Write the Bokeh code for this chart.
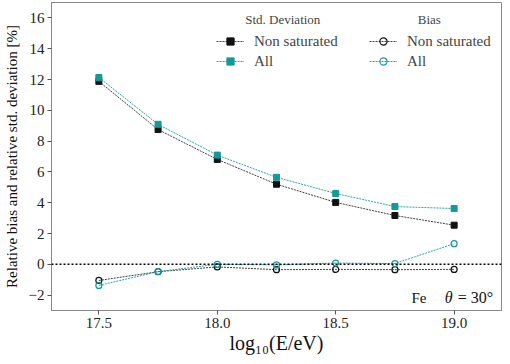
import numpy as np
from bokeh.plotting import figure
from bokeh.models import (Legend, LegendItem, Span, Label, FixedTicker, ColumnDataSource,
                          Range1d, NumeralTickFormatter)
from bokeh.embed import file_html
from bokeh.resources import INLINE

energy = [17.5, 17.75, 18.0, 18.25, 18.5, 18.75, 19.0]
std_nonsat = [11.88, 8.75, 6.81, 5.2, 4.02, 3.17, 2.54]
std_all = [12.13, 9.09, 7.09, 5.65, 4.6, 3.75, 3.62]
bias_nonsat = [-1.05, -0.48, -0.17, -0.35, -0.33, -0.35, -0.33]
bias_all = [-1.37, -0.48, 0.0, -0.04, 0.08, 0.05, 1.34]
y_ticks = [-2, 0, 2, 4, 6, 8, 10, 12, 14, 16]
x_ticks = [17.5, 18.0, 18.5, 19.0]

BLACK = "#111111"
TEAL = "#14999a"
FONT = "Liberation Serif"

p = figure(width=502, height=356, output_backend="svg", toolbar_location=None,
           x_range=Range1d(17.3, 19.2), y_range=Range1d(-3, 17),
           min_border_left=10, min_border_right=1, min_border_top=2, min_border_bottom=10)
p.grid.visible = False
p.outline_line_color = "#888888"
p.outline_line_width = 1
p.background_fill_color = "white"
p.border_fill_color = "white"

for ax in (p.xaxis[0], p.yaxis[0]):
    ax.axis_line_color = "#888888"
    ax.major_tick_line_color = "#555555"
    ax.minor_tick_line_color = None
    ax.major_tick_in = 0
    ax.major_tick_out = 4
    ax.major_label_text_font = FONT
    ax.major_label_text_font_size = "15px"
    ax.major_label_text_color = "#222222"
    ax.axis_label_text_font = FONT
    ax.axis_label_text_font_style = "normal"
    ax.axis_label_text_color = "#111111"
    ax.major_label_standoff = 3

p.yaxis.ticker = FixedTicker(ticks=y_ticks)
p.xaxis.ticker = FixedTicker(ticks=x_ticks)
p.xaxis.formatter = NumeralTickFormatter(format="0.0")
p.yaxis.axis_label = "Relative bias and relative std. deviation [%]"
p.yaxis.axis_label_text_font_size = "15px"
p.yaxis.axis_label_standoff = 6
p.xaxis.axis_label = "log₁₀(E/eV)"
p.xaxis.axis_label_text_font_size = "20px"
p.xaxis.axis_label_standoff = 1

p.add_layout(Span(location=0, dimension="width", line_color="black", line_width=1.6, line_dash="2 2"))

src = ColumnDataSource(dict(x=energy, sn=std_nonsat, sa=std_all, bn=bias_nonsat, ba=bias_all))

l_sn = p.line("x", "sn", source=src, line_color=BLACK, line_width=1, line_dash="2 1", line_alpha=0.8)
m_sn = p.scatter("x", "sn", source=src, marker="square", size=6, color=BLACK)
l_sa = p.line("x", "sa", source=src, line_color=TEAL, line_width=1, line_dash="2 1", line_alpha=0.9)
m_sa = p.scatter("x", "sa", source=src, marker="square", size=6, color=TEAL)
l_bn = p.line("x", "bn", source=src, line_color=BLACK, line_width=1, line_dash="2 1", line_alpha=0.8)
m_bn = p.scatter("x", "bn", source=src, marker="circle", size=6, line_color=BLACK, fill_alpha=0, line_width=1.2)
l_ba = p.line("x", "ba", source=src, line_color=TEAL, line_width=1, line_dash="2 1", line_alpha=0.9)
m_ba = p.scatter("x", "ba", source=src, marker="circle", size=6, line_color=TEAL, fill_alpha=0, line_width=1.2)


def make_legend(title, items, loc):
    return Legend(items=items, title=title, location=loc, orientation="vertical",
                  background_fill_alpha=0, border_line_alpha=0,
                  label_text_font=FONT, label_text_font_size="15px",
                  title_text_font=FONT, title_text_font_size="13px", title_text_font_style="normal",
                  glyph_width=28, glyph_height=18, label_height=18, spacing=2,
                  padding=4, margin=0, title_standoff=4, label_standoff=10)


leg1 = make_legend("         Std. Deviation", [
    LegendItem(label="Non saturated", renderers=[l_sn, m_sn]),
    LegendItem(label="All", renderers=[l_sa, m_sa]),
], (161, 236))
leg2 = make_legend("               Bias", [
    LegendItem(label="Non saturated", renderers=[l_bn, m_bn]),
    LegendItem(label="All", renderers=[l_ba, m_ba]),
], (314, 236))
p.add_layout(leg1)
p.add_layout(leg2)

p.add_layout(Label(x=18.82, y=-2.72, text="Fe", text_font=FONT, text_font_size="15px", text_color="#111111"))
p.add_layout(Label(x=18.96, y=-2.72, text="θ", text_font=FONT, text_font_size="16px",
                   text_color="#111111", text_font_style="italic"))
p.add_layout(Label(x=19.015, y=-2.72, text="= 30°", text_font=FONT, text_font_size="16px",
                   text_color="#111111"))

open("out.html", "w").write(file_html(p, INLINE))
